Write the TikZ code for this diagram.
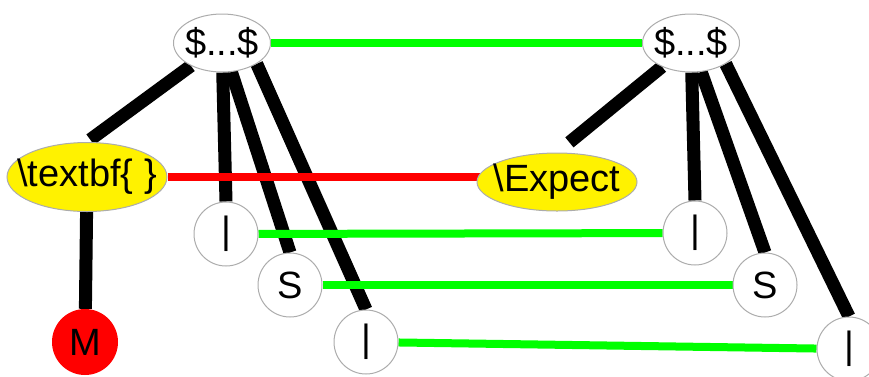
\documentclass[tikz,border=0pt]{standalone}
\usepackage{fontspec}
\setmainfont{Liberation Sans}
\usetikzlibrary{shapes.geometric,backgrounds}
\newcommand\zb[1]{\makebox[0pt]{#1}}
\begin{document}
\begin{tikzpicture}[x=1pt,y=-1pt,
  lbl/.style={font=\fontsize{38}{40}\selectfont, inner sep=0pt},
  topel/.style={ellipse, draw=gray!65, line width=1pt, fill=white, minimum width=97pt, minimum height=58pt, lbl},
  yel/.style={ellipse, draw=gray!65, line width=1pt, fill=yellow, minimum width=160pt, lbl},
  circ/.style={circle, draw=gray!65, line width=1pt, fill=white, minimum size=64pt, lbl},
  redc/.style={circle, fill=red, minimum size=66pt, lbl},
  blk/.style={line width=13pt, black},
  grn/.style={line width=8pt, green},
  rd/.style={line width=8pt, red}]
\clip (0,0) rectangle (869,376);
% nodes
\node[topel] (L) at (222,43) {\zb{\$...\$}};
\node[topel] (R) at (691,43) {\zb{\$...\$}};
\node[yel, minimum height=69pt] (tb) at (87,177) {\zb{\textbackslash textbf\{ \}}};
\node[yel, minimum height=58pt] (Ex) at (557,182) {\zb{\textbackslash Expect}};
\node[circ] (c1) at (226,234) {\zb{|}};
\node[circ] (c2) at (290,285) {\zb{S}};
\node[circ] (c3) at (366,342) {\zb{|}};
\node[circ] (d1) at (695,233) {\zb{|}};
\node[circ] (d2) at (765,285) {\zb{S}};
\node[circ] (d3) at (849,349) {\zb{|}};
\node[redc] (M) at (85,342) {\zb{M}};
% connectors
\begin{pgfonlayer}{background}
\draw[blk, shorten >=4pt] (L) -- (tb.north);
\draw[blk] (L) -- (c1.north);
\draw[blk] (L) -- (c2.north);
\draw[blk] (L.-31) -- (c3.north);
\draw[blk, shorten >=16pt] (R) -- (Ex.north);
\draw[blk] (R) -- (d1.north);
\draw[blk] (R) -- (d2.north);
\draw[blk] (R.-31) -- (d3.north);
\draw[blk] (tb) -- (M);
\draw[grn] (L) -- (R);
\draw[grn] (c1) -- (d1);
\draw[grn] (c2) -- (d2);
\draw[grn] (c3) -- (d3);
\draw[rd] (tb.east) -- (tb.east -| Ex.center);
\end{pgfonlayer}
\end{tikzpicture}
\end{document}
